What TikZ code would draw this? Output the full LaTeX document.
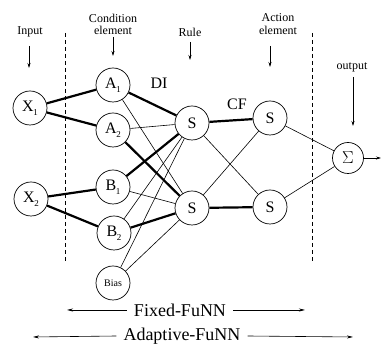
\documentclass[tikz,border=0pt]{standalone}
\usepackage{fontspec}
\setmainfont{Liberation Serif}
\usetikzlibrary{arrows.meta}
\begin{document}
\begin{tikzpicture}[x=1pt,y=-1pt,
  neuron/.style={draw,circle,minimum size=34pt,inner sep=0pt,font=\fontsize{16}{16}\selectfont,line width=0.7pt},
  thick edge/.style={line width=2.2pt},
  thin edge/.style={line width=0.6pt},
  lbl/.style={font=\fontsize{12}{12}\selectfont,align=center,inner sep=0pt},
  pointer/.style={line width=0.6pt,-{Stealth[length=5pt,width=3pt]}},
  span/.style={line width=0.6pt,-{Stealth[length=6pt,width=3pt]}},
  sep/.style={dashed,line width=0.7pt,dash pattern=on 4pt off 3pt}]
\newcommand{\nsub}[2]{#1\kern-0.5pt\raisebox{-4pt}{\fontsize{9}{9}\selectfont #2}}
\useasboundingbox (0,0) rectangle (381,344);
% separators
\coordinate (d1t) at (65,33); \coordinate (d1b) at (65,262);
\coordinate (d2t) at (312,33); \coordinate (d2b) at (312,262);
\draw[sep] (d1t) -- (d1b);
\draw[sep] (d2t) -- (d2b);
% nodes
\node[neuron] (X1) at (30,108) {\nsub{X}{1}};
\node[neuron] (X2) at (31,199) {\nsub{X}{2}};
\node[neuron] (A1) at (113,85) {\nsub{A}{1}};
\node[neuron] (A2) at (113,130) {\nsub{A}{2}};
\node[neuron] (B1) at (113,187) {\nsub{B}{1}};
\node[neuron] (B2) at (114,233) {\nsub{B}{2}};
\node[neuron,font=\fontsize{10}{10}\selectfont] (Bias) at (113,283) {\raisebox{-6pt}{Bias}};
\node[neuron] (S1) at (192,123) {S};
\node[neuron] (S2) at (192,208) {S};
\node[neuron] (S3) at (270,118) {S};
\node[neuron] (S4) at (270,207) {S};
\node[neuron,minimum size=31pt,font=\fontsize{18}{18}\selectfont] (Sum) at (348,158) {$\Sigma$};
% headers
\node[lbl] (tIn) at (30,32) {Input};
\node[lbl] (tCond1) at (113,18) {Condition};
\node[lbl] (tCond2) at (113,30) {element};
\node[lbl] (tRule) at (190,32) {Rule};
\node[lbl] (tAct1) at (278,18) {Action};
\node[lbl] (tAct2) at (278,30) {element};
\node[lbl] (tOut) at (352,67) {output};
\coordinate (aIn1) at (29,46); \coordinate (aIn2) at (29,68);
\coordinate (aC1) at (113,37); \coordinate (aC2) at (113,56);
\coordinate (aR1) at (190,42); \coordinate (aR2) at (190,60);
\coordinate (aA1) at (270,46); \coordinate (aA2) at (270,67);
\coordinate (aO1) at (353,77); \coordinate (aO2) at (353,126);
\draw[pointer] (aIn1) -- (aIn2);
\draw[pointer] (aC1) -- (aC2);
\draw[pointer] (aR1) -- (aR2);
\draw[pointer] (aA1) -- (aA2);
\draw[pointer] (aO1) -- (aO2);
% input connections
\draw[thick edge] (X1) -- (A1);
\draw[thick edge] (X1) -- (A2);
\draw[thick edge] (X2) -- (B1);
\draw[thick edge] (X2) -- (B2);
% condition to rule
\draw[thick edge] (A1) -- (S1);
\draw[thin edge] (A1) -- (S2);
\draw[thin edge] (A2) -- (S1);
\draw[thick edge] (A2) -- (S2);
\draw[thick edge] (B1) -- (S1);
\draw[thin edge] (B1) -- (S2);
\draw[thin edge] (B2) -- (S1);
\draw[thick edge] (B2) -- (S2);
\draw[thin edge] (Bias) -- (S1);
\draw[thin edge] (Bias) -- (S2);
% rule to action
\draw[thick edge] (S1) -- (S3);
\draw[thick edge] (S2) -- (S4);
\draw[thin edge] (S1) -- (S4);
\draw[thin edge] (S2) -- (S3);
% action to output
\draw[thin edge] (S3) -- (Sum);
\draw[thin edge] (S4) -- (Sum);
\coordinate (outEnd) at (381,158);
\draw[pointer] (Sum) -- (outEnd);
% edge labels
\node[font=\fontsize{16}{16}\selectfont,inner sep=0pt] (lDI) at (159,83) {DI};
\node[font=\fontsize{16}{16}\selectfont,inner sep=0pt] (lCF) at (237,104) {CF};
% spans
\node[font=\fontsize{18}{18}\selectfont,inner sep=0pt] (tFix) at (180,310) {Fixed-FuNN};
\node[font=\fontsize{18}{18}\selectfont,inner sep=0pt] (tAd) at (182,336) {Adaptive-FuNN};
\coordinate (f1) at (67,310); \coordinate (f2) at (305,310);
\coordinate (g1) at (33,337); \coordinate (g2) at (353,337);
\draw[span] (tFix.west) ++(-7,0) -- (f1);
\draw[span] (tFix.east) ++(7,0) -- (f2);
\draw[span] (tAd.west) ++(-7,0) -- (g1);
\draw[span] (tAd.east) ++(7,0) -- (g2);
\end{tikzpicture}
\end{document}
